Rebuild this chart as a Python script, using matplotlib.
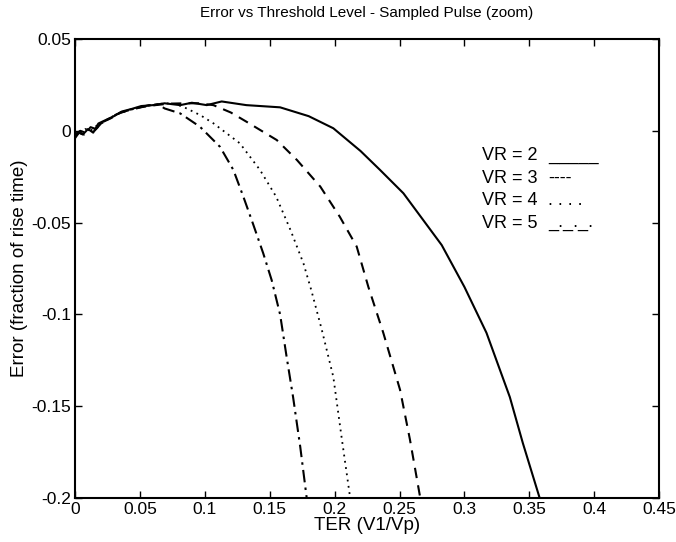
import numpy as np
import matplotlib.pyplot as plt

plt.rcParams['font.family'] = ['Liberation Sans', 'DejaVu Sans']

# values
x_vr2 = [0.0, 0.003, 0.006, 0.010, 0.014, 0.018, 0.024, 0.030, 0.036, 0.044, 0.051, 0.060,
         0.069, 0.081, 0.090, 0.1015, 0.113, 0.132, 0.158, 0.180, 0.199, 0.220, 0.235,
         0.253, 0.2825, 0.300, 0.317, 0.335, 0.345, 0.358]
y_vr2 = [-0.003, -0.001, -0.002, 0.001, -0.001, 0.004, 0.006, 0.008, 0.0105, 0.012, 0.0135, 0.014,
         0.015, 0.014, 0.0153, 0.014, 0.0160, 0.014, 0.0128, 0.008, 0.0014, -0.011, -0.0213,
         -0.034, -0.0622, -0.085, -0.110, -0.145, -0.170, -0.200]

x_vr3 = [0.0, 0.004, 0.008, 0.012, 0.016, 0.022, 0.028, 0.035, 0.043, 0.052, 0.062, 0.072,
         0.085, 0.095, 0.1066, 0.120, 0.132, 0.1554, 0.171, 0.189, 0.204, 0.217, 0.226,
         0.2375, 0.2504, 0.258, 0.266]
y_vr3 = [-0.002, 0.000, -0.001, 0.002, 0.001, 0.005, 0.007, 0.010, 0.0115, 0.013, 0.0140, 0.0148,
         0.0150, 0.0150, 0.0140, 0.0100, 0.005, -0.005, -0.0159, -0.0304, -0.0468, -0.063, -0.085,
         -0.110, -0.141, -0.168, -0.200]

x_vr4 = [0.0, 0.004, 0.008, 0.012, 0.017, 0.022, 0.028, 0.034, 0.042, 0.050, 0.060, 0.070,
         0.078, 0.086, 0.0966, 0.1066, 0.127, 0.1425, 0.155, 0.166, 0.176, 0.182, 0.190,
         0.199, 0.205, 0.212]
y_vr4 = [-0.001, -0.002, 0.001, 0.000, 0.003, 0.005, 0.0075, 0.0095, 0.0115, 0.013, 0.0142, 0.0150,
         0.0145, 0.0122, 0.0085, 0.0041, -0.0068, -0.0213, -0.0359, -0.054, -0.0722, -0.0867, -0.108,
         -0.134, -0.165, -0.200]

x_vr5 = [0.0, 0.003, 0.007, 0.011, 0.015, 0.020, 0.026, 0.032, 0.040, 0.048, 0.056, 0.064,
         0.069, 0.081, 0.0963, 0.1117, 0.122, 0.1297, 0.137, 0.145, 0.1515, 0.158, 0.163,
         0.168, 0.1735, 0.1785]
y_vr5 = [-0.004, -0.001, -0.002, 0.001, 0.000, 0.004, 0.0065, 0.009, 0.011, 0.0125, 0.0138, 0.0145,
         0.0122, 0.0095, 0.0022, -0.0087, -0.0213, -0.0359, -0.0504, -0.0667, -0.0813, -0.100, -0.123,
         -0.145, -0.172, -0.200]

x_ticks = [0, 0.05, 0.1, 0.15, 0.2, 0.25, 0.3, 0.35, 0.4, 0.45]
x_labels = ['0', '0.05', '0.1', '0.15', '0.2', '0.25', '0.3', '0.35', '0.4', '0.45']
y_ticks = [-0.2, -0.15, -0.1, -0.05, 0, 0.05]
y_labels = ['-0.2', '-0.15', '-0.1', '-0.05', '0', '0.05']

legend_labels = ['VR = 2', 'VR = 3', 'VR = 4', 'VR = 5']
legend_marks = ['_____', '----', '. . . .', '_._._.']

fig = plt.figure(figsize=(6.76, 5.42), dpi=100)
ax = fig.add_axes([0.111, 0.081, 0.864, 0.847])

ax.plot(x_vr2, y_vr2, color='black', linewidth=1.5, linestyle='-')
ax.plot(x_vr3, y_vr3, color='black', linewidth=1.5, linestyle=(0, (5, 3.5)))
ax.plot(x_vr4, y_vr4, color='black', linewidth=1.3, linestyle=(0, (1, 2.5)))
ax.plot(x_vr5, y_vr5, color='black', linewidth=1.5, linestyle=(0, (6, 2.5, 1.2, 2.5)))

ax.set_xlim(0, 0.45)
ax.set_ylim(-0.2, 0.05)
ax.set_xticks(x_ticks)
ax.set_xticklabels(x_labels)
ax.set_yticks(y_ticks)
ax.set_yticklabels(y_labels)
ax.tick_params(direction='in', length=5, width=1, labelsize=12.5, top=True, right=True,
               color='black', pad=3)
for s in ax.spines.values():
    s.set_linewidth(1.5)

ax.set_title('Error vs Threshold Level - Sampled Pulse (zoom)', fontsize=11, pad=16)
ax.set_xlabel('TER (V1/Vp)', fontsize=13.5, labelpad=0)
ax.set_ylabel('Error (fraction of rise time)', fontsize=13.5, labelpad=2)

# text-style legend like the original
for i, (lab, mk) in enumerate(zip(legend_labels, legend_marks)):
    yy = 0.746 - i * 0.049
    ax.text(0.696, yy, lab, transform=ax.transAxes, fontsize=13, va='center', ha='left')
    ax.text(0.81, yy, mk, transform=ax.transAxes, fontsize=13, va='center', ha='left')

fig.savefig('out.png', dpi=100)
